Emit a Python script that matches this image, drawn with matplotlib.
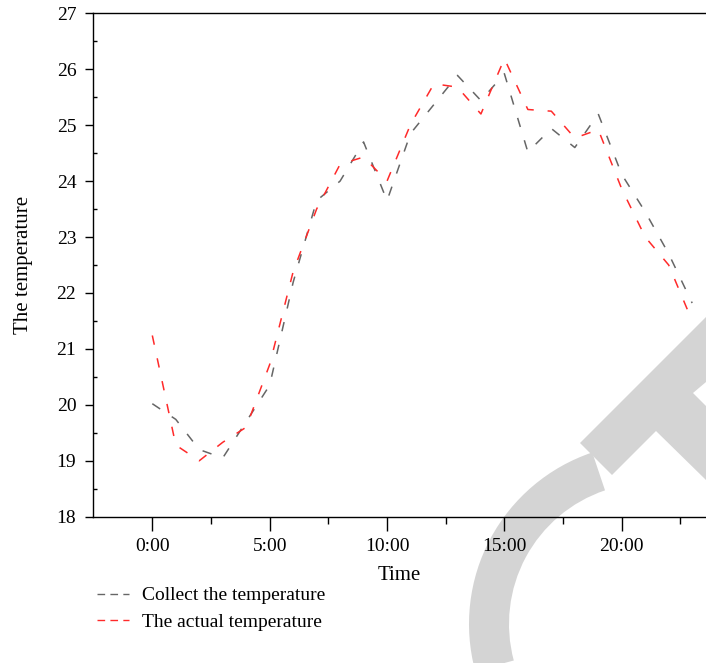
import numpy as np
import matplotlib
matplotlib.use("Agg")
import matplotlib.pyplot as plt
from matplotlib.lines import Line2D
from matplotlib.patches import Polygon, Wedge
from matplotlib.ticker import MultipleLocator, FixedLocator
from matplotlib.transforms import IdentityTransform

plt.rcParams['font.family'] = ['Liberation Serif', 'DejaVu Serif']
plt.rcParams['lines.scale_dashes'] = False

# data (hours 0..23)
hours = np.arange(24)
collect_temp = [20.02, 19.74, 19.2, 19.05, 19.7, 20.35, 22.19, 23.65, 24.0, 24.7,
                23.65, 24.85, 25.37, 25.89, 25.44, 25.92, 24.52, 24.94, 24.6, 25.2,
                24.12, 23.45, 22.7, 21.82]
actual_temp = [21.24, 19.28, 19.0, 19.33, 19.6, 20.72, 22.38, 23.5, 24.3, 24.43,
               24.0, 25.01, 25.74, 25.68, 25.2, 26.19, 25.28, 25.25, 24.77, 24.92,
               23.86, 23.0, 22.5, 21.5]
xtick_pos = [0, 5, 10, 15, 20]
xtick_labels = ['0:00', '5:00', '10:00', '15:00', '20:00']
series_names = ['Collect the temperature', 'The actual temperature']

W, H = 706, 663
fig = plt.figure(figsize=(W / 100, H / 100), dpi=100)
ax = fig.add_axes([93 / W, 146.3 / H, 1 - 93 / W, 503.4 / H])
ax.patch.set_alpha(0)

ax.plot(hours, collect_temp, color='#666666', lw=1.1, dashes=(6.8, 10))
ax.plot(hours, actual_temp, color='#ff2a2a', lw=1.1, dashes=(6.8, 10))

ax.set_xlim(-2.527, 23.59)
ax.set_ylim(18, 27)
ax.xaxis.set_major_locator(FixedLocator(xtick_pos))
ax.set_xticklabels(xtick_labels)
ax.xaxis.set_minor_locator(FixedLocator([2.5, 7.5, 12.5, 17.5, 22.5]))
ax.yaxis.set_major_locator(MultipleLocator(1))
ax.yaxis.set_minor_locator(MultipleLocator(0.5))
ax.spines['right'].set_visible(False)
for s in ax.spines.values():
    s.set_linewidth(1.0)

fs_tick = 14
fs_lab = 15
ax.tick_params(axis='x', which='major', direction='out', length=10, width=1, pad=5, labelsize=fs_tick)
ax.tick_params(axis='x', which='minor', direction='out', length=5, width=1)
ax.tick_params(axis='y', which='major', direction='out', length=6, width=1, pad=6, labelsize=fs_tick)
ax.tick_params(axis='y', which='minor', direction='in', length=3, width=1)

ax.set_xlabel('Time', fontsize=fs_lab, labelpad=8)
ax.set_ylabel('The temperature', fontsize=fs_lab, labelpad=17)

handles = [Line2D([], [], color='#666666', lw=1.0, dashes=(5.5, 3.8)),
           Line2D([], [], color='#ff2a2a', lw=1.0, dashes=(5.5, 3.8))]
fig.legend(handles, series_names, loc='upper left', bbox_to_anchor=(89 / W, 1 - 579 / H),
           frameon=False, fontsize=14, handlelength=1.65, handletextpad=0.7,
           labelspacing=0.45, borderaxespad=0)

# light grey watermark in the lower right, behind the chart
def px(pts):
    return [(x, H - y) for x, y in pts]

wm = '#d4d4d4'
tshape = px([(580, 443), (706, 317), (706, 382), (693, 393), (706, 406),
             (706, 480), (656, 431), (612, 475)])
fig.add_artist(Polygon(tshape, closed=True, color=wm, lw=0,
                       transform=IdentityTransform(), zorder=-1))
fig.add_artist(Wedge((650, H - 624), 181, 108.6, 195, width=40, color=wm, lw=0,
                     transform=IdentityTransform(), zorder=-1))

fig.savefig('out.png', dpi=100)
